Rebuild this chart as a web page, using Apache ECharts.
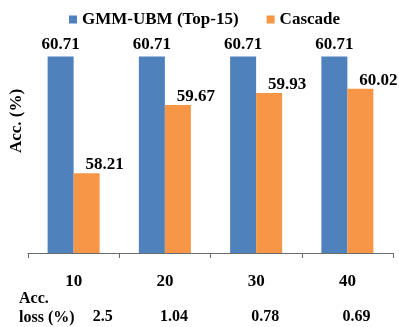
<!DOCTYPE html>
<html><head><meta charset="utf-8">
<script src="https://cdn.jsdelivr.net/npm/echarts@6/dist/echarts.min.js"></script>
<style>html,body{margin:0;padding:0;background:#fff}#c{width:399px;height:327px}</style>
</head><body><div id="c"></div>
<script>
var categories = ['10', '20', '30', '40'];
var gmmUbm = [60.71, 60.71, 60.71, 60.71];
var cascade = [58.21, 59.67, 59.93, 60.02];
var accLoss = ['2.5', '1.04', '0.78', '0.69'];
var seriesNames = ['GMM-UBM (Top-15)', 'Cascade'];

var FONT = '"Liberation Serif", "Times New Roman", serif';
var chart = echarts.init(document.getElementById('c'), null, {renderer: 'canvas'});
var lossData = accLoss.map(function (v, i) {
  return {value: v, textStyle: {padding: [0, 0, 0, i === 0 ? 58 : 18]}};
});
chart.setOption({
  animation: false,
  textStyle: {fontFamily: FONT},
  legend: {
    top: 6, left: 64,
    itemWidth: 8, itemHeight: 8, itemGap: 28,
    icon: 'rect',
    textStyle: {fontFamily: FONT, fontSize: 17, fontWeight: 'bold', color: '#000'},
    data: seriesNames
  },
  grid: {left: 27, right: 6, top: 43, bottom: 74},
  xAxis: [{
    type: 'category', data: categories,
    axisLine: {lineStyle: {color: '#6b6b6b', width: 1}},
    axisTick: {show: true, length: 5, lineStyle: {color: '#6b6b6b'}},
    axisLabel: {margin: 20, color: '#000', fontFamily: FONT, fontSize: 17, fontWeight: 'bold'}
  }, {
    type: 'category', data: lossData, position: 'bottom',
    axisLine: {show: false}, axisTick: {show: false},
    axisLabel: {margin: 56, color: '#000', fontFamily: FONT, fontSize: 16, fontWeight: 'bold'}
  }],
  yAxis: {
    type: 'value', min: 56.5, max: 61,
    axisLine: {show: false}, axisTick: {show: false}, axisLabel: {show: false},
    splitLine: {show: false},
    name: 'Acc. (%)', nameLocation: 'middle', nameRotate: 90, nameGap: 3,
    nameTextStyle: {fontFamily: FONT, fontSize: 17, fontWeight: 'bold', color: '#000', padding: [0, 0, 0, 54]}
  },
  graphic: [{
    type: 'text', left: 19, top: 291,
    style: {text: 'Acc.', font: 'bold 16px ' + FONT, fill: '#000'}
  }, {
    type: 'text', left: 19, top: 310,
    style: {text: 'loss (%)', font: 'bold 16px ' + FONT, fill: '#000'}
  }],
  series: [{
    name: seriesNames[0], type: 'bar', data: gmmUbm,
    barGap: '0%', barCategoryGap: '43%',
    itemStyle: {color: '#4F81BD'},
    label: {show: true, position: 'top', distance: 3, color: '#000', fontFamily: FONT, fontSize: 17, fontWeight: 'bold'}
  }, {
    name: seriesNames[1], type: 'bar', data: cascade,
    barGap: '0%', barCategoryGap: '43%',
    itemStyle: {color: '#F79646'},
    label: {show: true, position: 'top', distance: 0, offset: [18, 0], color: '#000', fontFamily: FONT, fontSize: 17, fontWeight: 'bold'}
  }]
});
</script></body></html>
